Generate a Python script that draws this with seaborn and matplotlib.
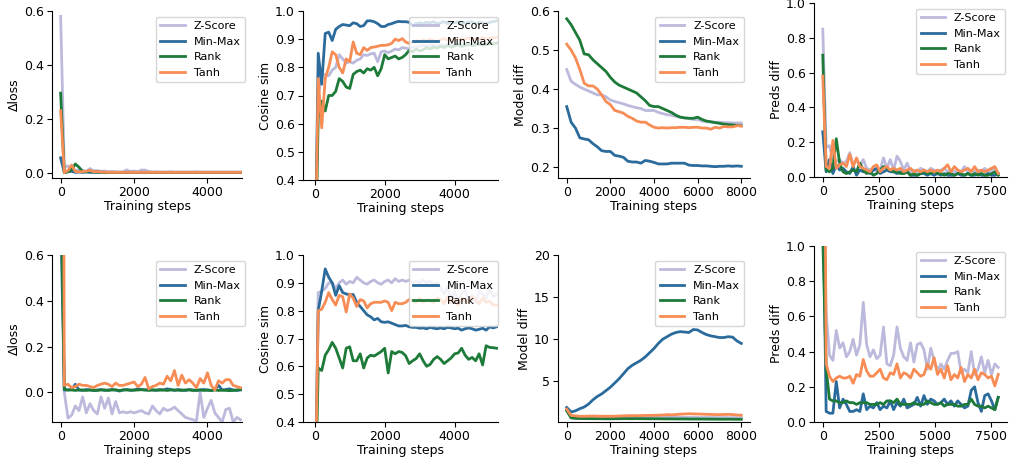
import matplotlib
matplotlib.use("Agg")
import matplotlib.pyplot as plt
import seaborn as sns
import numpy as np
import pandas as pd

# methods / colours
methods = ["Z-Score", "Min-Max", "Rank", "Tanh"]
colors = {"Z-Score": "#bcbadc", "Min-Max": "#2a6b9c", "Rank": "#1d7a38", "Tanh": "#f78c55"}

# training steps
steps_a = np.arange(0, 5000, 100)    # delta loss panels
steps_b = np.arange(0, 5300, 100)    # cosine panels
steps_c = np.arange(0, 8200, 200)    # model diff panels
steps_d = np.arange(0, 7950, 150)    # preds diff panels

# ---- row 1 ----
dloss1_z = [0.58, 0.02, 0.025, 0.01, 0.006, 0.012, 0.008, 0.005, 0.015, 0.006,
            0.008, 0.004, 0.006, 0.003, 0.004, 0.003, 0.002, 0.003, 0.010, 0.004,
            0.006, 0.003, 0.010, 0.009, 0.004, 0.002, 0.003, 0.002, 0.002, 0.002,
            0.003, 0.002, 0.002, 0.002, 0.002, 0.002, 0.002, 0.003, 0.002, 0.002,
            0.002, 0.002, 0.002, 0.002, 0.002, 0.002, 0.002, 0.002, 0.002, 0.002]
dloss1_mm = [0.055, 0.0, 0.003, 0.005, 0.001, 0.002, 0.001, 0.002, 0.001, 0.001,
             0.001, 0.001, 0.001, 0.001, 0.001, 0.001, 0.001, 0.001, 0.001, 0.001,
             0.001, 0.001, 0.001, 0.001, 0.001, 0.001, 0.001, 0.001, 0.001, 0.001,
             0.001, 0.001, 0.001, 0.001, 0.001, 0.001, 0.001, 0.001, 0.001, 0.001,
             0.001, 0.001, 0.001, 0.001, 0.001, 0.001, 0.001, 0.001, 0.001, 0.001]
dloss1_rank = [0.295, 0.0, 0.004, 0.010, 0.032, 0.020, 0.004, 0.003, 0.007, 0.003,
               0.002, 0.002, 0.001, 0.001, 0.001, 0.001, 0.001, 0.001, 0.001, 0.001,
               0.001, 0.001, 0.001, 0.001, 0.001, 0.001, 0.001, 0.001, 0.001, 0.001,
               0.001, 0.001, 0.001, 0.001, 0.001, 0.001, 0.001, 0.001, 0.001, 0.001,
               0.001, 0.001, 0.001, 0.001, 0.001, 0.001, 0.001, 0.001, 0.001, 0.001]
dloss1_tanh = [0.23, 0.0, 0.008, 0.028, 0.004, 0.003, 0.004, 0.005, 0.009, 0.003,
               0.004, 0.002, 0.002, 0.001, 0.001, 0.001, 0.001, 0.001, 0.001, 0.001,
               0.001, 0.001, 0.001, 0.001, 0.001, 0.001, 0.001, 0.001, 0.001, 0.001,
               0.001, 0.001, 0.001, 0.001, 0.001, 0.001, 0.001, 0.001, 0.001, 0.001,
               0.001, 0.001, 0.001, 0.001, 0.001, 0.001, 0.001, 0.001, 0.001, 0.001]

cos1_z = [0.0, 0.70, 0.77, 0.775, 0.77, 0.79, 0.80, 0.845, 0.83, 0.815,
          0.82, 0.815, 0.825, 0.83, 0.845, 0.842, 0.848, 0.85, 0.82, 0.855,
          0.858, 0.852, 0.858, 0.865, 0.862, 0.87, 0.868, 0.865, 0.872, 0.87,
          0.875, 0.878, 0.872, 0.878, 0.88, 0.875, 0.88, 0.878, 0.882, 0.876,
          0.88, 0.884, 0.878, 0.882, 0.88, 0.885, 0.879, 0.883, 0.886, 0.88,
          0.884, 0.887, 0.885]
cos1_mm = [0.0, 0.85, 0.74, 0.92, 0.925, 0.895, 0.935, 0.945, 0.952, 0.95,
           0.948, 0.958, 0.955, 0.945, 0.948, 0.965, 0.965, 0.962, 0.955, 0.945,
           0.945, 0.952, 0.955, 0.96, 0.963, 0.962, 0.962, 0.96, 0.948, 0.955,
           0.958, 0.955, 0.96, 0.958, 0.962, 0.955, 0.958, 0.962, 0.955, 0.96,
           0.958, 0.962, 0.955, 0.958, 0.96, 0.962, 0.955, 0.96, 0.958, 0.955,
           0.96, 0.962, 0.965]
cos1_rank = [0.0, 0.62, 0.68, 0.645, 0.70, 0.70, 0.715, 0.76, 0.75, 0.73,
             0.725, 0.775, 0.785, 0.79, 0.78, 0.795, 0.79, 0.80, 0.77, 0.795,
             0.845, 0.83, 0.835, 0.84, 0.83, 0.835, 0.845, 0.86, 0.855, 0.865,
             0.858, 0.862, 0.87, 0.865, 0.872, 0.868, 0.875, 0.87, 0.878, 0.872,
             0.876, 0.88, 0.874, 0.878, 0.882, 0.877, 0.88, 0.884, 0.879, 0.882,
             0.885, 0.883, 0.886]
cos1_tanh = [0.0, 0.76, 0.585, 0.76, 0.80, 0.855, 0.845, 0.80, 0.78, 0.83,
             0.82, 0.89, 0.85, 0.845, 0.87, 0.86, 0.87, 0.872, 0.875, 0.878,
             0.878, 0.88, 0.885, 0.90, 0.895, 0.902, 0.89, 0.885, 0.89, 0.895,
             0.89, 0.898, 0.892, 0.9, 0.895, 0.89, 0.898, 0.902, 0.895, 0.9,
             0.896, 0.903, 0.898, 0.9, 0.905, 0.898, 0.902, 0.9, 0.906, 0.9,
             0.903, 0.905, 0.906]

mdiff1_z = [0.45, 0.42, 0.412, 0.405, 0.40, 0.395, 0.39, 0.385, 0.385, 0.38,
            0.372, 0.368, 0.365, 0.362, 0.358, 0.355, 0.352, 0.35, 0.345, 0.345,
            0.345, 0.34, 0.337, 0.334, 0.333, 0.33, 0.328, 0.326, 0.325, 0.322,
            0.322, 0.318, 0.316, 0.316, 0.315, 0.315, 0.314, 0.314, 0.313, 0.313,
            0.313]
mdiff1_mm = [0.355, 0.315, 0.30, 0.275, 0.272, 0.27, 0.26, 0.252, 0.242, 0.24,
             0.24, 0.23, 0.228, 0.225, 0.215, 0.213, 0.213, 0.21, 0.217, 0.215,
             0.212, 0.208, 0.208, 0.208, 0.21, 0.21, 0.21, 0.21, 0.205, 0.204,
             0.204, 0.203, 0.203, 0.202, 0.201, 0.202, 0.202, 0.203, 0.202, 0.203,
             0.202]
mdiff1_rank = [0.58, 0.565, 0.545, 0.525, 0.49, 0.488, 0.475, 0.465, 0.455, 0.445,
               0.43, 0.418, 0.41, 0.405, 0.40, 0.395, 0.39, 0.38, 0.37, 0.358,
               0.355, 0.355, 0.35, 0.345, 0.34, 0.333, 0.328, 0.326, 0.325, 0.325,
               0.328, 0.322, 0.318, 0.316, 0.314, 0.312, 0.31, 0.309, 0.308, 0.307,
               0.306]
mdiff1_tanh = [0.515, 0.50, 0.48, 0.45, 0.415, 0.408, 0.408, 0.40, 0.385, 0.368,
               0.36, 0.345, 0.342, 0.338, 0.33, 0.325, 0.318, 0.315, 0.315, 0.308,
               0.302, 0.30, 0.301, 0.30, 0.301, 0.301, 0.302, 0.302, 0.301, 0.302,
               0.302, 0.30, 0.30, 0.297, 0.302, 0.30, 0.304, 0.303, 0.303, 0.306,
               0.305]

pdiff1_z = [0.85, 0.17, 0.18, 0.10, 0.09, 0.10, 0.08, 0.09, 0.14, 0.07,
            0.10, 0.06, 0.10, 0.05, 0.04, 0.05, 0.03, 0.04, 0.11, 0.05,
            0.10, 0.04, 0.12, 0.09, 0.04, 0.08, 0.03, 0.04, 0.03, 0.05,
            0.04, 0.03, 0.05, 0.04, 0.03, 0.04, 0.05, 0.03, 0.04, 0.03,
            0.04, 0.03, 0.06, 0.03, 0.04, 0.03, 0.04, 0.03, 0.05, 0.03,
            0.04, 0.05, 0.02]
pdiff1_mm = [0.26, 0.03, 0.10, 0.02, 0.07, 0.04, 0.05, 0.03, 0.02, 0.06,
             0.01, 0.04, 0.03, 0.03, 0.02, 0.04, 0.05, 0.02, 0.03, 0.04,
             0.03, 0.03, 0.02, 0.03, 0.02, 0.03, 0.01, 0.01, 0.01, 0.02,
             0.02, 0.01, 0.02, 0.01, 0.02, 0.01, 0.02, 0.01, 0.01, 0.01,
             0.02, 0.01, 0.01, 0.02, 0.01, 0.01, 0.02, 0.01, 0.01, 0.02,
             0.01, 0.01, 0.02]
pdiff1_rank = [0.70, 0.04, 0.03, 0.05, 0.22, 0.08, 0.03, 0.02, 0.03, 0.04,
               0.03, 0.08, 0.04, 0.02, 0.03, 0.01, 0.02, 0.04, 0.06, 0.05,
               0.04, 0.03, 0.03, 0.02, 0.02, 0.03, 0.01, 0.02, 0.01, 0.02,
               0.03, 0.02, 0.02, 0.03, 0.02, 0.02, 0.01, 0.02, 0.02, 0.01,
               0.02, 0.02, 0.01, 0.02, 0.01, 0.02, 0.01, 0.02, 0.01, 0.01,
               0.02, 0.03, 0.01]
pdiff1_tanh = [0.58, 0.06, 0.05, 0.21, 0.05, 0.07, 0.08, 0.06, 0.13, 0.06,
               0.11, 0.06, 0.05, 0.04, 0.03, 0.06, 0.07, 0.03, 0.05, 0.06,
               0.04, 0.05, 0.04, 0.05, 0.03, 0.04, 0.05, 0.03, 0.04, 0.03,
               0.04, 0.03, 0.04, 0.03, 0.04, 0.03, 0.05, 0.07, 0.03, 0.06,
               0.04, 0.03, 0.04, 0.05, 0.03, 0.06, 0.03, 0.04, 0.03, 0.04,
               0.05, 0.06, 0.02]

# ---- row 2 ----
dloss2_z = [1.2, 0.0, -0.113, -0.10, -0.06, -0.08, -0.02, -0.09, -0.05, -0.08,
            -0.095, -0.02, -0.07, -0.025, -0.095, -0.04, -0.09, -0.085, -0.09, -0.085,
            -0.09, -0.085, -0.08, -0.09, -0.095, -0.06, -0.08, -0.095, -0.07, -0.08,
            -0.075, -0.065, -0.08, -0.095, -0.11, -0.115, -0.12, -0.125, 0.0, -0.11,
            -0.07, -0.035, -0.09, -0.11, -0.13, -0.075, -0.07, -0.13, -0.11, -0.12]
dloss2_mm = [0.8, 0.01, 0.01, 0.012, 0.035, 0.01, 0.008, 0.012, 0.01, 0.008,
             0.01, 0.012, 0.008, 0.01, 0.012, 0.01, 0.005, 0.01, 0.012, 0.008,
             0.01, 0.015, 0.012, 0.01, 0.012, 0.01, 0.008, 0.012, 0.01, 0.015,
             0.012, 0.008, 0.012, 0.01, 0.008, 0.012, 0.01, 0.008, 0.01, 0.012,
             0.01, 0.008, 0.012, 0.03, 0.01, 0.012, 0.015, 0.01, 0.008, 0.01]
dloss2_rank = [1.0, 0.012, 0.01, 0.01, 0.008, 0.01, 0.01, 0.008, 0.01, 0.008,
               0.008, 0.01, 0.01, 0.008, 0.01, 0.01, 0.008, 0.01, 0.01, 0.01,
               0.009, 0.01, 0.011, 0.01, 0.008, 0.01, 0.01, 0.009, 0.01, 0.008,
               0.01, 0.01, 0.009, 0.008, 0.01, 0.01, 0.008, 0.009, 0.01, 0.008,
               0.009, 0.008, 0.01, 0.008, 0.009, 0.008, 0.007, 0.008, 0.01, 0.012]
dloss2_tanh = [5.7, 0.03, 0.035, 0.02, 0.025, 0.035, 0.03, 0.03, 0.025, 0.02,
               0.03, 0.035, 0.04, 0.035, 0.025, 0.04, 0.03, 0.03, 0.035, 0.04,
               0.045, 0.025, 0.035, 0.065, 0.015, 0.025, 0.03, 0.04, 0.035, 0.07,
               0.05, 0.095, 0.03, 0.075, 0.04, 0.055, 0.04, 0.02, 0.06, 0.04,
               0.085, 0.03, 0.01, 0.05, 0.04, 0.055, 0.055, 0.03, 0.025, 0.02]

cos2_z = [0.0, 0.865, 0.87, 0.88, 0.90, 0.90, 0.88, 0.90, 0.91, 0.895,
          0.905, 0.90, 0.92, 0.91, 0.90, 0.895, 0.905, 0.91, 0.90, 0.895,
          0.905, 0.91, 0.90, 0.915, 0.905, 0.91, 0.905, 0.91, 0.90, 0.905,
          0.90, 0.91, 0.90, 0.905, 0.895, 0.90, 0.88, 0.86, 0.885, 0.84,
          0.87, 0.83, 0.86, 0.875, 0.84, 0.855, 0.83, 0.87, 0.86, 0.845,
          0.88, 0.85, 0.86]
cos2_mm = [0.0, 0.80, 0.87, 0.95, 0.92, 0.90, 0.855, 0.89, 0.865, 0.86,
           0.857, 0.858, 0.83, 0.815, 0.80, 0.785, 0.778, 0.767, 0.772, 0.76,
           0.758, 0.76, 0.755, 0.75, 0.745, 0.745, 0.747, 0.742, 0.74, 0.74,
           0.737, 0.738, 0.735, 0.74, 0.737, 0.735, 0.738, 0.735, 0.74, 0.738,
           0.735, 0.737, 0.73, 0.735, 0.738, 0.735, 0.73, 0.733, 0.737, 0.73,
           0.742, 0.738, 0.742]
cos2_rank = [0.0, 0.594, 0.585, 0.64, 0.66, 0.686, 0.665, 0.63, 0.594, 0.665,
             0.67, 0.62, 0.62, 0.645, 0.594, 0.63, 0.64, 0.637, 0.645, 0.653,
             0.665, 0.576, 0.653, 0.645, 0.653, 0.65, 0.638, 0.61, 0.62, 0.628,
             0.645, 0.62, 0.60, 0.607, 0.625, 0.635, 0.625, 0.61, 0.62, 0.63,
             0.645, 0.648, 0.665, 0.64, 0.625, 0.632, 0.62, 0.645, 0.605, 0.674,
             0.668, 0.667, 0.665]
cos2_tanh = [0.0, 0.80, 0.805, 0.83, 0.865, 0.84, 0.82, 0.855, 0.85, 0.795,
             0.86, 0.845, 0.815, 0.84, 0.835, 0.81, 0.825, 0.83, 0.83, 0.83,
             0.835, 0.83, 0.80, 0.83, 0.825, 0.825, 0.83, 0.84, 0.835, 0.83,
             0.845, 0.83, 0.84, 0.835, 0.83, 0.845, 0.84, 0.825, 0.85, 0.83,
             0.84, 0.82, 0.845, 0.835, 0.83, 0.85, 0.84, 0.825, 0.845, 0.83,
             0.835, 0.82, 0.82]

mdiff2_z = [1.6, 0.8, 0.75, 0.72, 0.72, 0.72, 0.71, 0.70, 0.72, 0.70,
            0.70, 0.71, 0.70, 0.70, 0.71, 0.72, 0.71, 0.72, 0.73, 0.72,
            0.73, 0.72, 0.73, 0.74, 0.73, 0.72, 0.73, 0.72, 0.71, 0.72,
            0.71, 0.70, 0.71, 0.70, 0.70, 0.69, 0.70, 0.69, 0.69, 0.68,
            0.68]
mdiff2_mm = [1.9, 1.35, 1.5, 1.75, 1.95, 2.3, 2.8, 3.2, 3.5, 3.9,
             4.3, 4.8, 5.3, 5.9, 6.5, 6.9, 7.2, 7.5, 7.9, 8.4,
             8.9, 9.5, 10.0, 10.3, 10.6, 10.8, 10.9, 10.85, 10.8, 11.15,
             11.1, 10.8, 10.55, 10.4, 10.3, 10.2, 10.2, 10.3, 10.25, 9.8,
             9.5]
mdiff2_rank = [1.5, 0.65, 0.60, 0.58, 0.57, 0.57, 0.56, 0.56, 0.56, 0.55,
               0.55, 0.56, 0.56, 0.57, 0.57, 0.56, 0.57, 0.56, 0.56, 0.55,
               0.55, 0.55, 0.54, 0.54, 0.54, 0.53, 0.53, 0.53, 0.52, 0.52,
               0.52, 0.52, 0.51, 0.51, 0.51, 0.50, 0.50, 0.50, 0.50, 0.49,
               0.49]
mdiff2_tanh = [1.7, 0.95, 0.9, 0.85, 0.85, 0.87, 0.88, 0.86, 0.85, 0.86,
               0.85, 0.86, 0.88, 0.9, 0.92, 0.93, 0.92, 0.93, 0.95, 0.96,
               0.97, 0.98, 1.0, 1.05, 1.02, 1.05, 1.1, 1.12, 1.15, 1.13,
               1.12, 1.1, 1.08, 1.07, 1.05, 1.05, 1.06, 1.08, 1.05, 1.0,
               0.98]

pdiff2_z = [1.57, 0.62, 0.38, 0.35, 0.52, 0.42, 0.45, 0.37, 0.40, 0.47,
            0.38, 0.44, 0.68, 0.44, 0.37, 0.41, 0.36, 0.38, 0.54, 0.33,
            0.32, 0.38, 0.54, 0.42, 0.37, 0.35, 0.45, 0.34, 0.44, 0.45,
            0.41, 0.30, 0.42, 0.35, 0.29, 0.33, 0.30, 0.35, 0.39, 0.39,
            0.40, 0.28, 0.30, 0.28, 0.40, 0.27, 0.30, 0.37, 0.28, 0.35,
            0.27, 0.33, 0.31]
pdiff2_mm = [1.4, 0.06, 0.05, 0.05, 0.23, 0.08, 0.13, 0.10, 0.06, 0.06,
             0.07, 0.06, 0.16, 0.07, 0.09, 0.08, 0.11, 0.07, 0.09, 0.08,
             0.12, 0.07, 0.11, 0.09, 0.13, 0.08, 0.09, 0.10, 0.14, 0.09,
             0.15, 0.10, 0.13, 0.12, 0.10, 0.11, 0.13, 0.10, 0.12, 0.09,
             0.12, 0.10, 0.08, 0.09, 0.18, 0.20, 0.11, 0.06, 0.15, 0.16,
             0.12, 0.07, 0.14]
pdiff2_rank = [1.05, 0.30, 0.13, 0.12, 0.12, 0.11, 0.11, 0.12, 0.11, 0.11,
               0.10, 0.11, 0.11, 0.11, 0.10, 0.10, 0.10, 0.11, 0.10, 0.12,
               0.12, 0.11, 0.13, 0.10, 0.10, 0.10, 0.10, 0.11, 0.10, 0.10,
               0.10, 0.12, 0.11, 0.10, 0.10, 0.11, 0.09, 0.10, 0.10, 0.10,
               0.09, 0.09, 0.10, 0.10, 0.13, 0.10, 0.09, 0.09, 0.08, 0.09,
               0.08, 0.07, 0.14]
pdiff2_tanh = [3.7, 0.33, 0.26, 0.23, 0.25, 0.26, 0.25, 0.25, 0.26, 0.22,
               0.27, 0.26, 0.355, 0.29, 0.26, 0.26, 0.28, 0.30, 0.25, 0.24,
               0.28, 0.27, 0.33, 0.25, 0.28, 0.27, 0.25, 0.30, 0.28, 0.26,
               0.27, 0.33, 0.30, 0.365, 0.27, 0.30, 0.25, 0.32, 0.24, 0.27,
               0.25, 0.31, 0.23, 0.27, 0.25, 0.30, 0.24, 0.28, 0.27, 0.25,
               0.26, 0.205, 0.27]


def long_df(steps, series):
    parts = []
    for m, vals in zip(methods, series):
        parts.append(pd.DataFrame({"step": steps, "value": vals, "method": m}))
    return pd.concat(parts, ignore_index=True)


def panel(ax, steps, series, ylabel, ylim, yticks, xticks, xlim=None, shift=0.0):
    df = long_df(steps, series)
    sns.lineplot(data=df, x="step", y="value", hue="method", hue_order=methods,
                 palette=colors, linewidth=2, errorbar=None, ax=ax)
    ax.set_ylim(ylim)
    ax.set_yticks(yticks)
    ax.set_xticks(xticks)
    if xlim is not None:
        ax.set_xlim(xlim)
    ax.set_xlabel("Training steps", fontsize=9, labelpad=0.5)
    ax.set_ylabel(ylabel, fontsize=9, labelpad=2)
    ax.tick_params(labelsize=9, length=3.5, pad=2.5)
    sns.despine(ax=ax)
    sns.move_legend(ax, "upper right", bbox_to_anchor=(1 + shift, 1.0),
                    title=None, fontsize=8, frameon=True, handlelength=2.2)


W, H = 1011, 459
fig = plt.figure(figsize=(W / 100, H / 100), dpi=100)

def rect(x0, x1, top, bottom):
    return [x0 / W, 1 - bottom / H, (x1 - x0) / W, (bottom - top) / H]

# row 1
ax = fig.add_axes(rect(52, 242, 11, 178))
panel(ax, steps_a, [dloss1_z, dloss1_mm, dloss1_rank, dloss1_tanh], "Δloss",
      (-0.02, 0.6), [0.0, 0.2, 0.4, 0.6], [0, 2000, 4000], (-235, 4940), 0.045)
ax = fig.add_axes(rect(303, 498, 11, 180))
panel(ax, steps_b, [cos1_z, cos1_mm, cos1_rank, cos1_tanh], "Cosine sim",
      (0.4, 1.0), np.round(np.arange(0.4, 1.01, 0.1), 1), [0, 2000, 4000], (-335, 5240), 0.028)
ax = fig.add_axes(rect(558, 750, 11, 178))
panel(ax, steps_c, [mdiff1_z, mdiff1_mm, mdiff1_rank, mdiff1_tanh], "Model diff",
      (0.172, 0.6), [0.2, 0.3, 0.4, 0.5, 0.6], [0, 2000, 4000, 6000, 8000])
ax = fig.add_axes(rect(814, 1007, 3, 177))
panel(ax, steps_d, [pdiff1_z, pdiff1_mm, pdiff1_rank, pdiff1_tanh], "Preds diff",
      (0.0, 1.0), [0.0, 0.2, 0.4, 0.6, 0.8, 1.0], [0, 2500, 5000, 7500], None, 0.02)

# row 2
ax = fig.add_axes(rect(52, 242, 255, 422))
panel(ax, steps_a, [dloss2_z, dloss2_mm, dloss2_rank, dloss2_tanh], "Δloss",
      (-0.13, 0.6), [0.0, 0.2, 0.4, 0.6], [0, 2000, 4000], (-235, 4940), 0.045)
ax = fig.add_axes(rect(303, 498, 255, 422))
panel(ax, steps_b, [cos2_z, cos2_mm, cos2_rank, cos2_tanh], "Cosine sim",
      (0.4, 1.0), np.round(np.arange(0.4, 1.01, 0.1), 1), [0, 2000, 4000], (-335, 5240), 0.028)
ax = fig.add_axes(rect(558, 750, 255, 422))
panel(ax, steps_c, [mdiff2_z, mdiff2_mm, mdiff2_rank, mdiff2_tanh], "Model diff",
      (0.17, 20), [5, 10, 15, 20], [0, 2000, 4000, 6000, 8000])
ax = fig.add_axes(rect(814, 1007, 246, 422))
panel(ax, steps_d, [pdiff2_z, pdiff2_mm, pdiff2_rank, pdiff2_tanh], "Preds diff",
      (0.0, 1.0), [0.0, 0.2, 0.4, 0.6, 0.8, 1.0], [0, 2500, 5000, 7500], None, 0.02)

fig.savefig("out.png", dpi=100)
